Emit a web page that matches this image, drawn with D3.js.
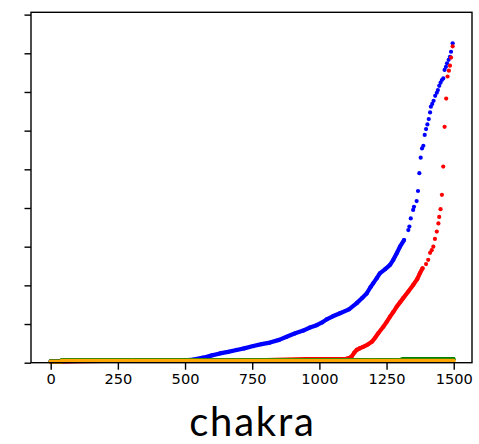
<!DOCTYPE html>
<html>
<head>
<meta charset="utf-8">
<script src="https://d3js.org/d3.v7.min.js"></script>
<style>
  body { margin: 0; background: #fff; }
  .tick text { font-family: "DejaVu Sans", sans-serif; }
</style>
</head>
<body>
<div id="chart"></div>
<script>
// sorted values per series (index, value)
var blueIdx = [0, 100, 200, 300, 400, 500, 530, 568, 600, 630, 660, 692, 720, 754, 785, 816, 850, 878, 910, 940, 965, 990, 1010, 1027, 1050, 1077, 1110, 1139, 1160, 1176, 1190, 1200, 1213, 1225, 1245, 1263, 1275, 1288, 1300, 1315,
  1331, 1335, 1340, 1349, 1352, 1362, 1367, 1372, 1377, 1382, 1387, 1392, 1397, 1402, 1407, 1412, 1415, 1420, 1425, 1431, 1437, 1441, 1446, 1451, 1456, 1461, 1466, 1471, 1475, 1481, 1486, 1490, 1496];
var blueVal = [0.03, 0.045, 0.045, 0.045, 0.05, 0.06, 0.08, 0.13, 0.19, 0.24, 0.28, 0.33, 0.37, 0.43, 0.48, 0.52, 0.59, 0.67, 0.76, 0.83, 0.91, 0.97, 1.04, 1.12, 1.2, 1.28, 1.38, 1.54, 1.68, 1.79, 1.95, 2.05, 2.18, 2.31, 2.42, 2.53, 2.66, 2.83, 3.0, 3.17,
  3.43, 3.52, 3.73, 3.95, 4.03, 4.18, 4.44, 4.90, 5.30, 5.54, 5.61, 5.89, 6.04, 6.16, 6.30, 6.47, 6.62, 6.69, 6.77, 6.90, 6.98, 7.05, 7.16, 7.24, 7.31, 7.35, 7.57, 7.65, 7.74, 7.83, 7.91, 8.04, 8.26];

var redIdx = [0, 200, 400, 600, 800, 950, 1100, 1110, 1120, 1130, 1139, 1150, 1163, 1180, 1195, 1208, 1219, 1238, 1250, 1263, 1275, 1288, 1300, 1312, 1331, 1349, 1364, 1374, 1384,
  1397, 1405, 1412, 1418, 1424, 1430, 1437, 1443, 1446, 1451, 1456, 1461, 1466, 1472, 1477, 1482, 1486, 1490, 1496];
var redVal = [0.03, 0.045, 0.05, 0.06, 0.07, 0.09, 0.10, 0.12, 0.16, 0.26, 0.33, 0.37, 0.41, 0.47, 0.54, 0.65, 0.76, 0.93, 1.05, 1.19, 1.31, 1.45, 1.56, 1.67, 1.84, 2.01, 2.16, 2.31, 2.44,
  2.55, 2.66, 2.84, 2.91, 3.0, 3.2, 3.39, 3.60, 3.77, 3.97, 4.34, 5.07, 6.10, 6.83, 7.40, 7.55, 7.68, 7.89, 8.18];

var greenIdx = [0, 40, 42, 300, 600, 900, 1200, 1300, 1311, 1400, 1499];
var greenVal = [0.035, 0.035, 0.07, 0.07, 0.07, 0.07, 0.07, 0.07, 0.09, 0.09, 0.09];

var orangeIdx = [0, 40, 42, 300, 600, 900, 1200, 1499];
var orangeVal = [0.025, 0.025, 0.048, 0.048, 0.048, 0.048, 0.048, 0.048];

var xTicks = [0, 250, 500, 750, 1000, 1250, 1500];
var yTicks = [0, 1, 2, 3, 4, 5, 6, 7, 8, 9];

// where the dots stop overlapping into a solid band
var series = [
  { name: 'blue', idx: blueIdx, val: blueVal, color: 'blue', denseUntil: 1315 },
  { name: 'red', idx: redIdx, val: redVal, color: 'red', denseUntil: 1384 },
  { name: 'green', idx: greenIdx, val: greenVal, color: 'green', denseUntil: 1499 },
  { name: 'orange', idx: orangeIdx, val: orangeVal, color: 'orange', denseUntil: 1499 }
];

var margin = { left: 31, right: 7, top: 12.3, bottom: 81.3 };
var W = 479, H = 444;
var width = W - margin.left - margin.right;
var height = H - margin.top - margin.bottom;

var svg = d3.select('#chart')
  .append('svg')
    .attr('width', W)
    .attr('height', H);

var g = svg.append('g')
  .attr('transform', 'translate(' + margin.left + ',' + margin.top + ')');

var x = d3.scaleLinear().domain([-73.3, 1568]).range([0, width]);
var y = d3.scaleLinear().domain([0, 9.06]).range([height, 0]);

var line = d3.line()
  .x(function(d) { return x(d[0]); })
  .y(function(d) { return y(d[1]); });

series.forEach(function(s) {
  var pts = s.idx.map(function(v, i) { return [v, s.val[i]]; });
  var dense = pts.filter(function(d) { return d[0] <= s.denseUntil; });

  g.append('path')
    .datum(dense)
    .attr('d', line)
    .attr('fill', 'none')
    .attr('stroke', s.color)
    .attr('stroke-width', 4.2)
    .attr('stroke-linecap', 'round')
    .attr('stroke-linejoin', 'round');

  g.selectAll('circle.' + s.name)
    .data(pts)
    .enter()
    .append('circle')
      .attr('class', s.name)
      .attr('cx', function(d) { return x(d[0]); })
      .attr('cy', function(d) { return y(d[1]); })
      .attr('r', 2.1)
      .attr('fill', s.color);
});

// axes
var xAxis = g.append('g')
  .attr('transform', 'translate(0,' + height + ')')
  .call(d3.axisBottom(x).tickValues(xTicks).tickFormat(d3.format('d')).tickSize(7).tickPadding(4).tickSizeOuter(0));

xAxis.selectAll('text')
  .attr('font-size', '14.6px')
  .attr('fill', '#000');

var yAxis = g.append('g')
  .call(d3.axisLeft(y).tickValues(yTicks).tickSize(6.5).tickFormat('').tickSizeOuter(0));

g.selectAll('.domain').remove();
g.selectAll('.tick line').attr('stroke', '#000').attr('stroke-width', 1.4);

// frame
g.append('rect')
  .attr('x', 0)
  .attr('y', 0)
  .attr('width', width)
  .attr('height', height)
  .attr('fill', 'none')
  .attr('stroke', '#000')
  .attr('stroke-width', 1.4);

svg.append('text')
  .attr('x', margin.left + width / 2 + 0.9)
  .attr('y', 436)
  .attr('text-anchor', 'middle')
  .attr('font-family', 'Lato, sans-serif')
  .attr('font-size', '40px')
  .attr('letter-spacing', '1.8px')
  .attr('fill', '#000')
  .text('chakra');
</script>
</body>
</html>
